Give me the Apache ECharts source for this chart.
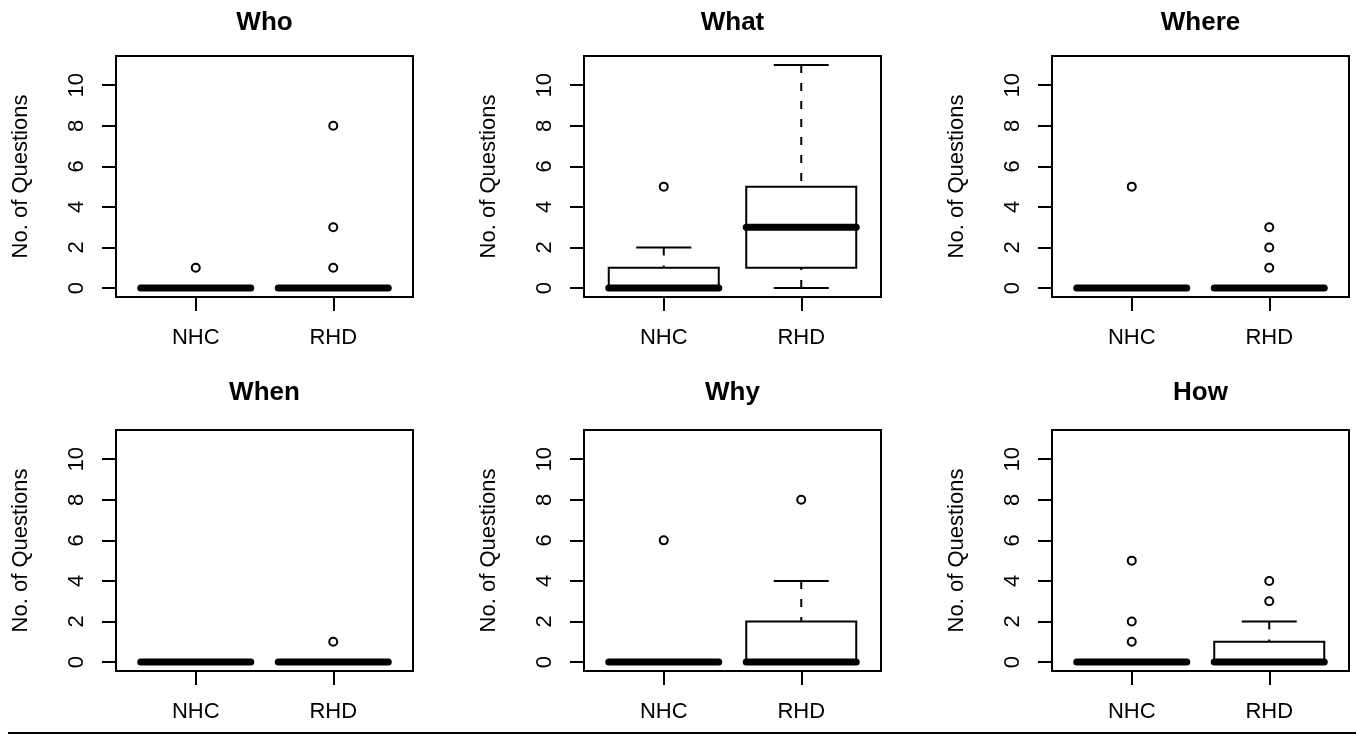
<!DOCTYPE html>
<html style="height: 100%">
<head>
    <meta charset="UTF-8">
    <title>Questions per category</title>
    <script src="https://cdn.jsdelivr.net/npm/echarts/dist/echarts.min.js"></script>
    <style>
        #main {
            width: 1356px;
            height: 734px;
        }
    </style>
</head>
<body style="height: 100%; margin: 0; background: #fff">
    <div id="main"></div>
    <script type="text/javascript">
        var groups = ['NHC', 'RHD'];
        var titles = ['Who', 'What', 'Where', 'When', 'Why', 'How'];
        var yTicks = [0, 2, 4, 6, 8, 10];
        var yMin = -0.44, yMax = 11.44;

        // [lower whisker, Q1, median, Q3, upper whisker] for NHC, RHD
        var whoBoxes = [[0, 0, 0, 0, 0], [0, 0, 0, 0, 0]];
        var whatBoxes = [[0, 0, 0, 1, 2], [0, 1, 3, 5, 11]];
        var whereBoxes = [[0, 0, 0, 0, 0], [0, 0, 0, 0, 0]];
        var whenBoxes = [[0, 0, 0, 0, 0], [0, 0, 0, 0, 0]];
        var whyBoxes = [[0, 0, 0, 0, 0], [0, 0, 0, 2, 4]];
        var howBoxes = [[0, 0, 0, 0, 0], [0, 0, 0, 1, 2]];

        // outliers for NHC, RHD
        var whoOutliers = [[1], [1, 3, 8]];
        var whatOutliers = [[5], []];
        var whereOutliers = [[5], [1, 2, 3]];
        var whenOutliers = [[], [1]];
        var whyOutliers = [[6], [8]];
        var howOutliers = [[1, 2, 5], [3, 4]];

        var boxes = [whoBoxes, whatBoxes, whereBoxes, whenBoxes, whyBoxes, howBoxes];
        var outliers = [whoOutliers, whatOutliers, whereOutliers, whenOutliers, whyOutliers, howOutliers];

        var font = '"Liberation Sans", Arial, Helvetica, sans-serif';
        var gridLefts = [116, 584, 1052];
        var gridTops = [56, 430];
        var gridW = 297, gridH = 241;

        function renderBox(params, api) {
            var x = api.value(0);
            var lo = api.coord([x, api.value(1)]);
            var q1 = api.coord([x, api.value(2)]);
            var med = api.coord([x, api.value(3)]);
            var q3 = api.coord([x, api.value(4)]);
            var hi = api.coord([x, api.value(5)]);
            var boxW = api.size([0.8, 0])[0];
            var cx = lo[0];
            var half = boxW / 2, staple = boxW / 4;
            var solid = { stroke: '#000', lineWidth: 2 };
            var dashed = { stroke: '#000', lineWidth: 2, lineDash: [8, 10] };
            return {
                type: 'group',
                children: [
                    { type: 'line', shape: { x1: cx, y1: hi[1], x2: cx, y2: q3[1] }, style: dashed },
                    { type: 'line', shape: { x1: cx, y1: lo[1], x2: cx, y2: q1[1] }, style: dashed },
                    { type: 'line', shape: { x1: cx - staple, y1: hi[1], x2: cx + staple, y2: hi[1] }, style: solid },
                    { type: 'line', shape: { x1: cx - staple, y1: lo[1], x2: cx + staple, y2: lo[1] }, style: solid },
                    { type: 'rect', shape: { x: cx - half, y: q3[1], width: boxW, height: q1[1] - q3[1] },
                      style: { fill: '#fff', stroke: '#000', lineWidth: 2 } },
                    { type: 'line', shape: { x1: cx - half, y1: med[1], x2: cx + half, y2: med[1] },
                      style: { stroke: '#000', lineWidth: 7, lineCap: 'round' } }
                ]
            };
        }

        var grids = [], xAxes = [], yAxes = [], series = [], graphics = [];

        titles.forEach(function (name, i) {
            var col = i % 3, row = Math.floor(i / 3);
            grids.push({
                left: gridLefts[col], top: gridTops[row], width: gridW, height: gridH,
                show: true, borderColor: '#000', borderWidth: 2, backgroundColor: 'transparent'
            });
            xAxes.push({
                gridIndex: i, type: 'value', min: 0.42, max: 2.58,
                axisLine: { show: false, onZero: false }, splitLine: { show: false },
                axisTick: { customValues: [1, 2], length: 14, lineStyle: { color: '#000', width: 2 } },
                axisLabel: {
                    customValues: [1, 2], margin: 30, color: '#000', fontSize: 22, fontFamily: font,
                    formatter: function (v) { return groups[Math.round(v) - 1]; }
                }
            });
            yAxes.push({
                gridIndex: i, type: 'value', min: yMin, max: yMax,
                name: 'No. of Questions', nameLocation: 'middle', nameGap: 84,
                nameTextStyle: { color: '#000', fontSize: 22, fontFamily: font },
                axisLine: { show: false, onZero: false }, splitLine: { show: false },
                axisTick: { customValues: yTicks, length: 14, lineStyle: { color: '#000', width: 2 } },
                axisLabel: { customValues: yTicks, rotate: 90, margin: 28, color: '#000', fontSize: 22, fontFamily: font }
            });
            series.push({
                type: 'custom', xAxisIndex: i, yAxisIndex: i,
                renderItem: renderBox,
                encode: { x: 0, y: [1, 2, 3, 4, 5] },
                data: boxes[i].map(function (b, g) { return [g + 1].concat(b); }),
                silent: true
            });
            var pts = [];
            outliers[i].forEach(function (vals, g) {
                vals.forEach(function (v) { pts.push([g + 1, v]); });
            });
            series.push({
                type: 'scatter', xAxisIndex: i, yAxisIndex: i,
                symbol: 'circle', symbolSize: 8,
                itemStyle: { color: '#fff', borderColor: '#000', borderWidth: 2, opacity: 1 },
                data: pts, silent: true, z: 3
            });
            graphics.push({
                type: 'text',
                x: gridLefts[col] + gridW / 2, y: row === 0 ? 23 : 393,
                style: {
                    text: name, fill: '#000', font: 'bold 26px ' + font,
                    textAlign: 'center', textVerticalAlign: 'middle'
                }
            });
        });

        graphics.push({
            type: 'line',
            shape: { x1: 8, y1: 733, x2: 1356, y2: 733 },
            style: { stroke: '#000', lineWidth: 2 }
        });

        var chartDom = document.getElementById('main');
        var myChart = echarts.init(chartDom);
        myChart.setOption({
            animation: false,
            backgroundColor: '#fff',
            grid: grids,
            xAxis: xAxes,
            yAxis: yAxes,
            series: series,
            graphic: { elements: graphics }
        });
    </script>
</body>
</html>
